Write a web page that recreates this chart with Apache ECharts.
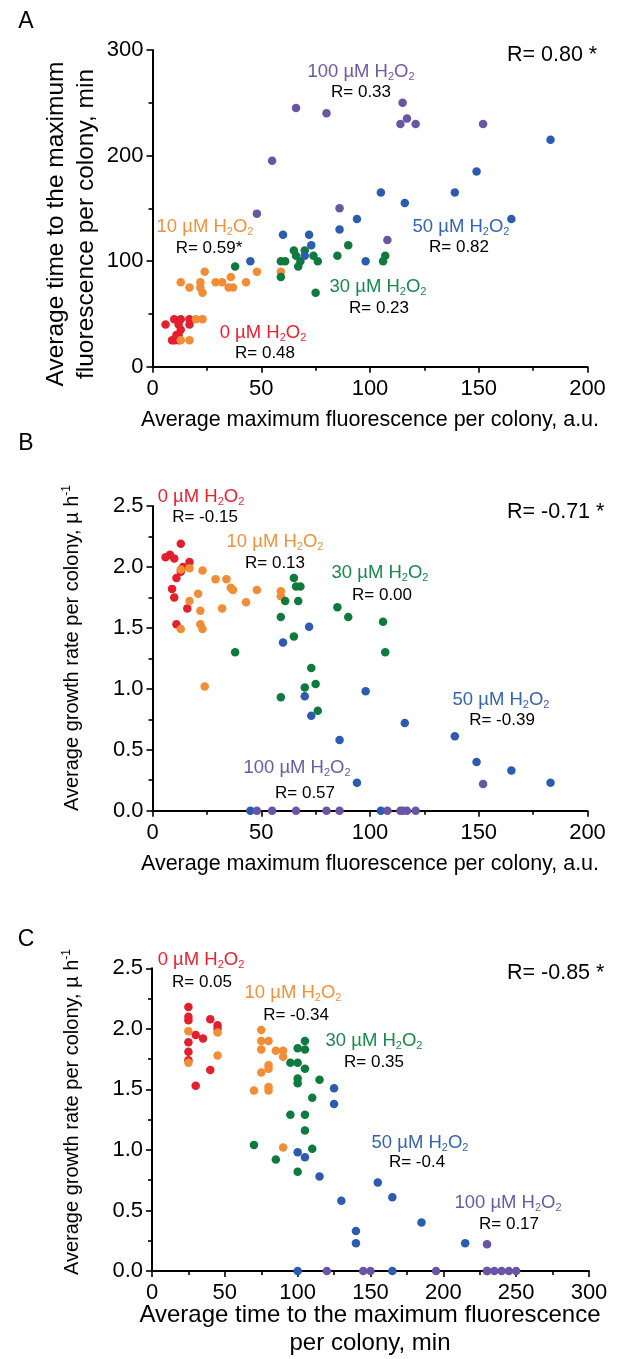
<!DOCTYPE html>
<html><head><meta charset="utf-8">
<script src="https://cdn.jsdelivr.net/npm/echarts@6/dist/echarts.min.js"></script>
<style>html,body{margin:0;padding:0;background:#fff}#c{width:637px;height:1359px}</style>
</head><body><div id="c"></div>
<script>
// ---------------- DATA ----------------
const concentrations = ['0', '10', '30', '50', '100'];

// Panel A: [average maximum fluorescence (a.u.), average time to maximum (min)]
const A_0   = [[6,40],[10,45],[13,45],[17,45],[12,40],[17,40],[13,35],[12,30],[9,25],[10,25],[12,25],[11,30]];
const A_10  = [[13,80],[17,75],[22,80],[22,75],[23,70],[24,90],[29,80],[32,80],[35,75],[37,75],[36,85],[43,80],[48,90],[59,90],[20,45],[23,45],[13,25],[17,25]];
const A_30  = [[38,95],[59,100],[61,100],[59,85],[65,110],[66,105],[67,95],[70,110],[74,105],[76,100],[75,70],[85,105],[90,115],[106,100],[107,105],[68,100]];
const A_50  = [[45,100],[60,125],[72,125],[73,115],[70,105],[86,130],[94,140],[98,100],[105,165],[116,155],[139,165],[149,185],[183,215],[165,140]];
const A_100 = [[66,245],[80,240],[55,195],[48,145],[86,150],[115,250],[117,235],[114,230],[121,230],[152,230],[108,120]];

// Panel B: [average maximum fluorescence (a.u.), average growth rate (1/h)]
const B_0   = [[13,2.19],[6,2.08],[8,2.10],[10,2.07],[17,2.04],[14,2.0],[13,1.96],[11,1.91],[9,1.82],[10,1.75],[16,1.66],[11,1.53]];
const B_10  = [[13,1.98],[17,1.99],[23,1.97],[29,1.90],[34,1.90],[36,1.83],[37,1.81],[21,1.78],[48,1.81],[59,1.80],[59,1.76],[43,1.71],[17,1.72],[32,1.66],[22,1.64],[22,1.53],[23,1.49],[13,1.49],[24,1.02]];
const B_30  = [[65,1.91],[66,1.84],[68,1.84],[61,1.72],[67,1.72],[59,1.59],[85,1.67],[90,1.59],[65,1.43],[38,1.30],[73,1.17],[70,1.01],[75,1.04],[59,0.93],[76,0.82],[106,1.55],[107,1.30]];
const B_50  = [[72,1.51],[60,1.38],[70,0.94],[73,0.78],[98,0.98],[86,0.58],[94,0.23],[45,0],[105,0],[116,0.72],[139,0.61],[149,0.40],[165,0.33],[183,0.23]];
const B_100 = [[48,0],[55,0],[66,0],[80,0],[86,0],[108,0],[114,0],[115,0],[117,0],[121,0],[152,0.22]];

// Panel C: [average time to maximum (min), average growth rate (1/h)]
const C_0   = [[25,2.18],[25,2.10],[25,2.07],[25,1.89],[25,1.81],[25,1.74],[30,1.95],[35,1.92],[40,2.08],[45,2.03],[45,2.00],[40,1.66],[30,1.53]];
const C_10  = [[25,1.98],[25,1.72],[45,1.97],[45,1.78],[75,1.99],[75,1.90],[80,1.90],[75,1.83],[85,1.82],[90,1.82],[90,1.77],[80,1.70],[80,1.67],[75,1.64],[70,1.49],[80,1.52],[80,1.49],[90,1.02]];
const C_30  = [[105,1.90],[100,1.84],[105,1.83],[95,1.72],[100,1.72],[105,1.67],[100,1.59],[100,1.55],[115,1.58],[110,1.43],[95,1.29],[105,1.29],[105,1.16],[70,1.04],[110,1.01],[85,0.92],[100,0.82]];
const C_50  = [[125,1.51],[125,1.38],[100,0.98],[105,0.94],[115,0.78],[130,0.58],[140,0.33],[140,0.23],[155,0.73],[165,0.61],[185,0.40],[215,0.23],[100,0],[165,0]];
const C_100 = [[120,0],[145,0],[150,0],[195,0],[230,0],[230,0],[235,0],[240,0],[245,0],[250,0],[230,0.22]];

// correlation coefficients
const R_A = ['0.48','0.59*','0.23','0.82','0.33'];
const R_B = ['-0.15','0.13','0.00','-0.39','0.57'];
const R_C = ['0.05','-0.34','0.35','-0.4','0.17'];
const R_total = ['0.80 *','-0.71 *','-0.85 *'];

// axis ranges / titles
const xRangeA = [0, 200, 50], yRangeA = [0, 300, 100];
const xRangeB = [0, 200, 50], yRangeB = [0, 2.5, 0.5];
const xRangeC = [0, 300, 50], yRangeC = [0, 2.5, 0.5];
const panelLetters = ['A','B','C'];
const titleFluo = 'Average maximum fluorescence per colony, a.u.';
const titleTimeY = ['Average time to the maximum', 'fluorescence per colony, min'];
const titleTimeX = ['Average time to the maximum fluorescence', 'per colony, min'];
const titleGrowth = 'Average growth rate per colony, µ h';

// ---------------- STYLE / LAYOUT ----------------
const FONT = '"Liberation Sans", Arial, sans-serif';
const pointColors = ['#e31e2d', '#f28c35', '#0e7a3c', '#2b5cb0', '#6a54a3'];
const labelColors = ['#ec1f2e', '#f5903a', '#17894a', '#3463b6', '#6b5aa6'];

const panelData = [
  [A_0, A_10, A_30, A_50, A_100],
  [B_0, B_10, B_30, B_50, B_100],
  [C_0, C_10, C_30, C_50, C_100]
];
const grids = [
  {left: 152.5, top: 50, width: 435, height: 316.7},
  {left: 152.5, top: 506, width: 435, height: 304.7},
  {left: 152, top: 968.3, width: 437, height: 302.7}
];
const ranges = [[xRangeA, yRangeA], [xRangeB, yRangeB], [xRangeC, yRangeC]];

const groupPos = [
  [[263,333],[205,227],[378,287],[461,227],[361,72]],
  [[201,497],[275,542],[380,573],[501,700],[297,768]],
  [[201,960],[293,993],[374,1041],[420,1143],[508,1203]]
];
const rPos = [
  [[265,353],[209,248],[379,308],[459,247],[361,92]],
  [[205,517],[275,563],[382,595],[502,720],[305,793]],
  [[202,982],[296,1015],[374,1062],[417,1162],[509,1224]]
];
const rTotalPos = [[507,55],[507,512],[507,973]];
const letterPos = [[26,22],[26,444],[26,940]];

function axisCommon(range, fmt) {
  return {
    type: 'value', min: range[0], max: range[1], interval: range[2],
    axisLine: {show: true, onZero: false, lineStyle: {color: '#000', width: 2}},
    axisTick: {show: true, inside: false, length: 6, lineStyle: {color: '#000', width: 1.6}},
    minorTick: {show: true, splitNumber: 2, length: 4, lineStyle: {color: '#000', width: 1.6}},
    splitLine: {show: false}, minorSplitLine: {show: false},
    axisLabel: {color: '#000', fontSize: 22, fontFamily: FONT, margin: 10, formatter: fmt, showMinLabel: true, showMaxLabel: true}
  };
}

const xAxes = [], yAxes = [], series = [];
ranges.forEach((r, i) => {
  xAxes.push(Object.assign(axisCommon(r[0], v => String(v)), {gridIndex: i}));
  yAxes.push(Object.assign(axisCommon(r[1], i === 0 ? (v => String(v)) : (v => v.toFixed(1))), {gridIndex: i}));
  yAxes[i].axisLabel.margin = 9;
  xAxes[i].axisLabel.margin = 11;
  panelData[i].forEach((d, g) => {
    series.push({
      type: 'scatter', xAxisIndex: i, yAxisIndex: i, data: d,
      symbol: 'circle', symbolSize: 8.5,
      itemStyle: {color: pointColors[g], opacity: 1},
      silent: true, z: 2 + g
    });
  });
});

const graphics = [];
function txt(x, y, text, size, color, extra) {
  return Object.assign({type: 'text', x: x, y: y, silent: true, z: 100,
    style: {text: text, fontSize: size, fontFamily: FONT, fill: color, align: 'center', verticalAlign: 'middle'}}, extra || {});
}
function groupText(x, y, conc, color) {
  return {type: 'text', x: x, y: y, silent: true, z: 100,
    style: {
      text: '{m|' + conc + ' µM H}{s|2}{m|O}{s|2}',
      align: 'center', verticalAlign: 'middle',
      rich: {
        m: {fontSize: 18.5, fontFamily: FONT, fill: color, lineHeight: 20},
        s: {fontSize: 11, fontFamily: FONT, fill: color, lineHeight: 5, verticalAlign: 'bottom'}
      }
    }};
}
for (let p = 0; p < 3; p++) {
  const Rs = [R_A, R_B, R_C][p];
  for (let g = 0; g < 5; g++) {
    graphics.push(groupText(groupPos[p][g][0], groupPos[p][g][1], concentrations[g], labelColors[g]));
    graphics.push(txt(rPos[p][g][0], rPos[p][g][1], 'R= ' + Rs[g], 17, '#000'));
  }
  const rt = txt(rTotalPos[p][0], rTotalPos[p][1], 'R= ' + R_total[p], 21.5, '#000');
  rt.style.align = 'left';
  graphics.push(rt);
  graphics.push(txt(letterPos[p][0], letterPos[p][1], panelLetters[p], 23, '#000'));
}
// axis titles
graphics.push(txt(56, 224, titleTimeY[0], 24.5, '#000', {rotation: Math.PI / 2}));
graphics.push(txt(86, 224, titleTimeY[1], 24.5, '#000', {rotation: Math.PI / 2}));
graphics.push(txt(370, 420, titleFluo, 21.5, '#000'));
graphics.push(txt(370, 864, titleFluo, 21.5, '#000'));
graphics.push(txt(370, 1315, titleTimeX[0], 24, '#000'));
graphics.push(txt(370, 1343, titleTimeX[1], 24, '#000'));
function growthTitle(x, y) {
  return {type: 'text', x: x, y: y, rotation: Math.PI / 2, silent: true, z: 100,
    style: {
      text: '{m|' + titleGrowth + '}{p|-1}',
      align: 'center', verticalAlign: 'middle',
      rich: {
        m: {fontSize: 20, fontFamily: FONT, fill: '#000', lineHeight: 22},
        p: {fontSize: 12, fontFamily: FONT, fill: '#000', lineHeight: 8, verticalAlign: 'top'}
      }
    }};
}
graphics.push(growthTitle(72, 648));
graphics.push(growthTitle(72, 1112));

const chart = echarts.init(document.getElementById('c'), null, {renderer: 'canvas'});
chart.setOption({
  backgroundColor: '#fff',
  animation: false,
  textStyle: {fontFamily: FONT},
  grid: grids.map(g => Object.assign({containLabel: false, outerBoundsMode: 'none'}, g)),
  xAxis: xAxes,
  yAxis: yAxes,
  series: series,
  graphic: {elements: graphics}
});
</script>
</body></html>
